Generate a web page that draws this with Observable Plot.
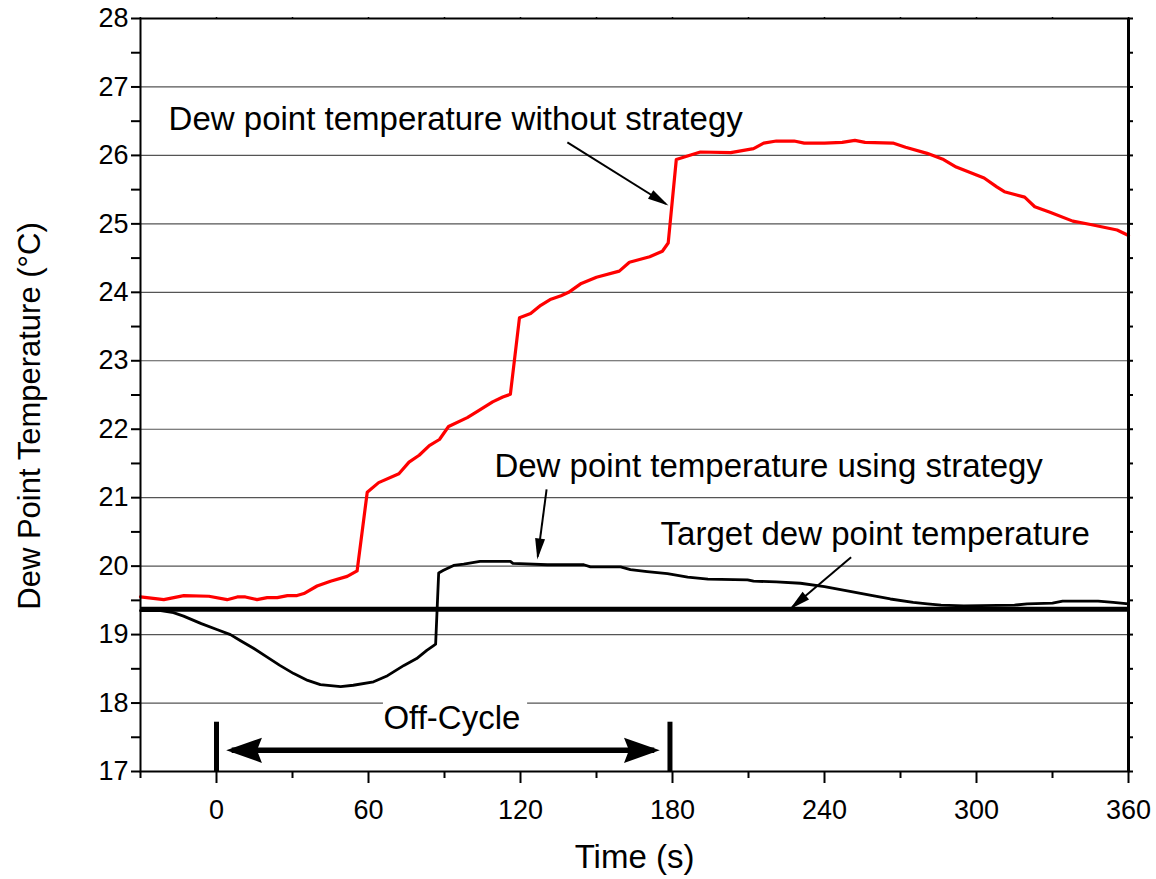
<!DOCTYPE html>
<html>
<head>
<meta charset="utf-8">
<script src="https://cdn.jsdelivr.net/npm/d3@7"></script>
<script src="https://cdn.jsdelivr.net/npm/@observablehq/plot@0.6"></script>
<style>
  html, body { margin: 0; padding: 0; background: white; }
  #chart { width: 1156px; height: 879px; }
</style>
</head>
<body>
<div id="chart"></div>
<script>
// ---- Data ----
const redTime = [-30, -20.8, -12.9, -3, 4.2, 8.2, 11.4, 16, 20, 24, 28, 31.8, 34.5, 39.7, 45, 51.6, 55.5,
  59.5, 64, 72, 76, 80, 84, 88, 91.6, 99, 103, 109, 113, 116, 119.6, 124, 128, 132, 136, 139, 144, 150,
  159, 163, 171, 176, 178.3, 181.5, 191, 203, 212, 216, 221, 228, 232, 240, 247, 252, 256, 267, 272,
  280.5, 287, 292, 303, 308, 311, 319, 323, 329, 338, 345, 355.5, 360];
const redDew = [19.55, 19.51, 19.57, 19.56, 19.51, 19.55, 19.55, 19.51, 19.54, 19.54, 19.57, 19.57, 19.60, 19.71, 19.78, 19.85, 19.93,
  21.08, 21.22, 21.35, 21.52, 21.62, 21.76, 21.85, 22.04, 22.17, 22.26, 22.40, 22.47, 22.51, 23.63, 23.69, 23.81, 23.90, 23.95, 24.00, 24.13, 24.22,
  24.31, 24.44, 24.52, 24.60, 24.72, 25.94, 26.05, 26.04, 26.10, 26.18, 26.21, 26.21, 26.18, 26.18, 26.19, 26.22, 26.19, 26.18, 26.12,
  26.03, 25.94, 25.83, 25.67, 25.54, 25.47, 25.39, 25.25, 25.17, 25.04, 24.99, 24.91, 24.83];

const stratTime = [-30, -22, -17, -13, -6, 0.4, 5.5, 9.5, 14.6, 20, 25, 30.5, 36, 41, 49, 54, 62, 67.5, 74, 79, 83, 85.7, 86.5,
  87.7, 89.6, 93.6, 97.6, 104, 116, 117, 130.6, 145, 147.6, 159.5, 163.4, 170, 178, 186, 194, 209.6, 212, 221, 230.5,
  240, 249, 259, 266, 275, 280.6, 286, 295, 315, 320, 330, 334, 348, 354, 360];
const stratDew = [19.35, 19.35, 19.32, 19.27, 19.16, 19.07, 19.00, 18.91, 18.80, 18.67, 18.55, 18.43, 18.33, 18.27, 18.24, 18.26, 18.31, 18.40, 18.55, 18.65, 18.77, 18.84, 18.86,
  19.90, 19.94, 20.01, 20.03, 20.07, 20.07, 20.04, 20.02, 20.02, 19.99, 19.99, 19.95, 19.92, 19.89, 19.84, 19.81, 19.80, 19.78, 19.77, 19.75,
  19.70, 19.64, 19.57, 19.52, 19.47, 19.45, 19.43, 19.42, 19.43, 19.45, 19.46, 19.49, 19.49, 19.47, 19.45];

const targetDew = 19.37;

const xMajorTicks = [0, 60, 120, 180, 240, 300, 360];
const xMinorTicks = [-30, 30, 90, 150, 210, 270, 330];
const yTicks = [17, 18, 19, 20, 21, 22, 23, 24, 25, 26, 27, 28];
const yMinorTicks = [17.5, 18.5, 19.5, 20.5, 21.5, 22.5, 23.5, 24.5, 25.5, 26.5, 27.5];
const gridValues = [18, 19, 20, 21, 22, 23, 24, 25, 26, 27];

// annotations
const noteText = ["Dew point temperature without strategy", "Dew point temperature using strategy", "Target dew point temperature", "Off-Cycle"];
const noteX = [-18.9, 109.7, 175.3, 65.9];
const noteY = [26.52, 21.46, 20.46, 17.78];
const arrowX1 = [138.5, 130.3, 250.5];
const arrowY1 = [26.19, 21.12, 20.13];
const arrowX2 = [177.4, 126.8, 227.2];
const arrowY2 = [25.29, 20.14, 19.40];
const offCycleBarX = [0, 179];
const offCycleBarTop = 17.72;
const offCycleArrowX = [6, 172.8];
const offCycleArrowY = 17.31;
const offLabelBox = {x1: 65.9, x2: 122.8, y1: 17.94, y2: 18.06};

// ---- Build tables ----
const redRows = redTime.map((t, i) => ({t, v: redDew[i]}));
const stratRows = stratTime.map((t, i) => ({t, v: stratDew[i]}));
const notes = noteText.map((text, i) => ({text, x: noteX[i], y: noteY[i]}));
const arrows = arrowX1.map((x1, i) => ({x1, y1: arrowY1[i], x2: arrowX2[i], y2: arrowY2[i]}));
const offBars = offCycleBarX.map(x => ({x, y1: 17, y2: offCycleBarTop}));
const offArrow = [{x1: offCycleArrowX[0], x2: offCycleArrowX[1], y: offCycleArrowY}];
const blank = () => "";

const font = "'Liberation Sans', Arial, Helvetica, sans-serif";

const svg = Plot.plot({
  width: 1156,
  height: 879,
  marginLeft: 140,
  marginRight: 28,
  marginTop: 18,
  marginBottom: 108,
  style: {fontFamily: font, background: "white", color: "black"},
  x: {domain: [-30, 360]},
  y: {domain: [17, 28]},
  marks: [
    Plot.ruleY(gridValues, {stroke: "#555", strokeWidth: 1.2}),
    Plot.rect([offLabelBox], {x1: "x1", x2: "x2", y1: "y1", y2: "y2", fill: "white"}),
    Plot.line(redRows, {x: "t", y: "v", stroke: "#ff0000", strokeWidth: 3.2, strokeLinejoin: "round"}),
    Plot.line(stratRows, {x: "t", y: "v", stroke: "black", strokeWidth: 2.8, strokeLinejoin: "round"}),
    Plot.ruleY([targetDew], {stroke: "black", strokeWidth: 5}),
    Plot.text(notes, {x: "x", y: "y", text: "text", textAnchor: "start", fontSize: 33, fill: "black"}),
    Plot.link(arrows, {x1: "x1", y1: "y1", x2: "x2", y2: "y2", stroke: "black", strokeWidth: 2, markerEnd: "arrow"}),
    Plot.ruleX(offBars, {x: "x", y1: "y1", y2: "y2", stroke: "black", strokeWidth: 5}),
    Plot.link(offArrow, {x1: "x1", x2: "x2", y1: "y", y2: "y", stroke: "black", strokeWidth: 5.5, markerStart: "arrow", markerEnd: "arrow"}),
    // axes
    Plot.axisX({ticks: xMajorTicks, tickSize: 12, tickPadding: 16, fontSize: 27, strokeWidth: 2, label: null}),
    Plot.axisX({ticks: xMinorTicks, tickSize: 7, tickFormat: blank, strokeWidth: 2, label: null}),
    Plot.axisX({anchor: "top", ticks: xMajorTicks.concat(xMinorTicks), tickSize: 2, tickFormat: blank, strokeWidth: 1.5, label: null}),
    Plot.axisY({ticks: yTicks, tickSize: 9, tickPadding: 3, fontSize: 27, strokeWidth: 2, label: null}),
    Plot.axisY({ticks: yMinorTicks, tickSize: 9, tickFormat: blank, strokeWidth: 2, label: null}),
    Plot.axisY({anchor: "right", ticks: yTicks.concat(yMinorTicks), tickSize: 4, tickFormat: blank, strokeWidth: 2, label: null}),
    Plot.frame({stroke: "black", strokeWidth: 2}),
    Plot.ruleX([360], {stroke: "black", strokeWidth: 3}),
    Plot.text(["Time (s)"], {frameAnchor: "bottom", textAnchor: "middle", text: d => d, dy: 96, fontSize: 33}),
    Plot.text(["Dew Point Temperature (°C)"], {frameAnchor: "left", textAnchor: "middle", text: d => d, rotate: -90, dx: -110, dy: 21, fontSize: 31})
  ]
});

// filled arrowheads
const ns = "http://www.w3.org/2000/svg";
const defs = document.createElementNS(ns, "defs");
function makeMarker(id, vb, w, h, d) {
  const m = document.createElementNS(ns, "marker");
  m.setAttribute("id", id);
  m.setAttribute("viewBox", vb);
  m.setAttribute("refX", "0");
  m.setAttribute("refY", "0");
  m.setAttribute("markerWidth", w);
  m.setAttribute("markerHeight", h);
  m.setAttribute("orient", "auto-start-reverse");
  m.setAttribute("markerUnits", "strokeWidth");
  const p = document.createElementNS(ns, "path");
  p.setAttribute("d", d);
  p.setAttribute("fill", "black");
  p.setAttribute("stroke", "none");
  m.appendChild(p);
  defs.appendChild(m);
}
makeMarker("headThin", "-10 -3 12 6", 12, 6, "M1.5,0L-9,-2.5L-9,2.5Z");
makeMarker("headThick", "-7 -3 9 6", 9, 6, "M1,0L-5.5,-2.3L-4.6,0L-5.5,2.3Z");
svg.insertBefore(defs, svg.firstChild);
svg.querySelectorAll("[marker-end],[marker-start]").forEach(el => {
  const g = el.closest("[stroke-width]");
  const sw = g ? +g.getAttribute("stroke-width") : 2;
  const id = sw > 3 ? "headThick" : "headThin";
  if (el.hasAttribute("marker-end")) el.setAttribute("marker-end", `url(#${id})`);
  if (el.hasAttribute("marker-start")) el.setAttribute("marker-start", `url(#${id})`);
});

document.getElementById("chart").appendChild(svg);
</script>
</body>
</html>
